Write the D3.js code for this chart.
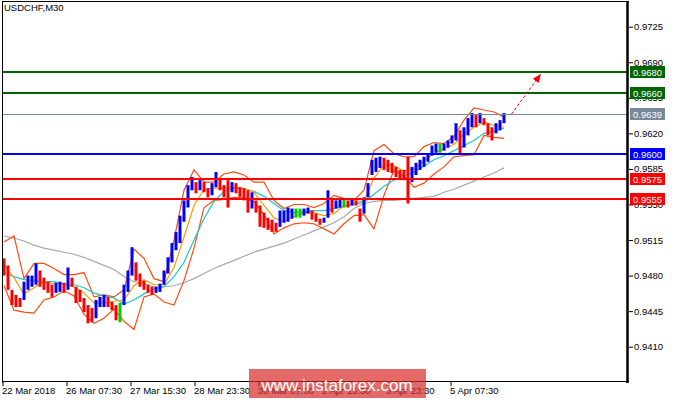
<!DOCTYPE html>
<html><head><meta charset="utf-8">
<script src="https://cdn.jsdelivr.net/npm/d3@7/dist/d3.min.js"></script>
<style>
body{margin:0;background:#fff}
svg{display:block}
text{font-family:"Liberation Sans",Arial,sans-serif}
</style>
</head><body>
<svg id="chart" width="675" height="400"></svg>
<script>
// ---------- DATA ----------
const chartTitle = "USDCHF,M30";
const timeTickBars = [0, 64, 128, 192, 256, 320, 384, 448];
const timeLabels = ["22 Mar 2018","26 Mar 07:30","27 Mar 15:30","28 Mar 23:30","30 Mar 07:30","2 Apr 15:30","3 Apr 23:30","5 Apr 07:30"];
const priceTicks = [0.9725,0.9690,0.9655,0.9620,0.9585,0.9550,0.9515,0.9480,0.9445,0.9410];
const levelValues = [0.9680,0.9660,0.9639,0.9600,0.9575,0.9555];
const levelColors = ["#006400","#006400","#778899","#0000ff","#ff0000","#ff0000"];
const levelWidths = [2,2,1,2,2,2];

// price bars (grouped every 4 bars of M30), starting at bar 1.5
const barStart = 1.5, barStep = 4;
const barHigh = [
0.9497,0.9490,0.9466,0.9461,0.9458,0.9474,0.9480,0.9480,0.9492,0.9485,
0.9478,0.9474,0.9471,0.9473,0.9474,0.9473,0.9488,0.9478,0.9469,0.9466,
0.9458,0.9451,0.9448,0.9456,0.9459,0.9461,0.9459,0.9454,0.9451,0.9453,
0.9471,0.9485,0.9508,0.9493,0.9482,0.9475,0.9471,0.9469,0.9469,0.9472,
0.9485,0.9498,0.9512,0.9523,0.9539,0.9554,0.9569,0.9577,0.9572,0.9574,
0.9572,0.9566,0.9571,0.9582,0.9576,0.9569,0.9574,0.9572,0.9571,0.9567,
0.9566,0.9564,0.9562,0.9554,0.9549,0.9542,0.9537,0.9535,0.9532,0.9544,
0.9544,0.9547,0.9546,0.9546,0.9546,0.9546,0.9547,0.9544,0.9541,0.9536,
0.9537,0.9564,0.9556,0.9554,0.9556,0.9556,0.9554,0.9556,0.9554,0.9546,
0.9557,0.9571,0.9594,0.9596,0.9597,0.9596,0.9594,0.9591,0.9587,0.9584,
0.9584,0.9597,0.9587,0.9591,0.9594,0.9597,0.9600,0.9608,0.9610,0.9610,
0.9610,0.9613,0.9618,0.9630,0.9623,0.9626,0.9635,0.9640,0.9638,0.9640,
0.9635,0.9630,0.9626,0.9630,0.9633,0.9640];
const barLow = [
0.9480,0.9466,0.9451,0.9449,0.9449,0.9456,0.9466,0.9469,0.9471,0.9469,
0.9466,0.9463,0.9459,0.9463,0.9464,0.9463,0.9466,0.9469,0.9453,0.9454,
0.9444,0.9433,0.9434,0.9438,0.9449,0.9449,0.9449,0.9446,0.9436,0.9434,
0.9451,0.9464,0.9480,0.9475,0.9469,0.9466,0.9463,0.9461,0.9463,0.9464,
0.9471,0.9482,0.9493,0.9505,0.9512,0.9533,0.9547,0.9564,0.9561,0.9564,
0.9562,0.9557,0.9559,0.9567,0.9564,0.9557,0.9547,0.9562,0.9561,0.9557,
0.9554,0.9542,0.9546,0.9542,0.9528,0.9527,0.9525,0.9523,0.9523,0.9528,
0.9532,0.9533,0.9536,0.9537,0.9537,0.9539,0.9541,0.9535,0.9533,0.9530,
0.9532,0.9537,0.9542,0.9546,0.9547,0.9547,0.9547,0.9549,0.9549,0.9533,
0.9541,0.9557,0.9579,0.9582,0.9586,0.9584,0.9582,0.9581,0.9577,0.9576,
0.9574,0.9551,0.9572,0.9579,0.9584,0.9587,0.9592,0.9598,0.9601,0.9601,
0.9603,0.9606,0.9610,0.9613,0.9600,0.9606,0.9618,0.9626,0.9626,0.9630,
0.9628,0.9618,0.9613,0.9620,0.9623,0.9630];

// indicator lines, sampled every 10 bars starting at bar 1.5
const lineStart = 1.5, lineStep = 10;
const bbUpper = [
0.9513,0.9519,0.9477,0.9492,0.9492,0.9487,0.9481,0.9481,0.9483,0.9459,
0.9461,0.9459,0.9466,0.9506,0.9497,0.9477,0.9474,0.9515,0.9564,0.9584,
0.9572,0.9572,0.9580,0.9582,0.9579,0.9572,0.9572,0.9554,0.9546,0.9550,
0.9550,0.9547,0.9551,0.9559,0.9556,0.9554,0.9564,0.9603,0.9609,0.9600,
0.9597,0.9597,0.9607,0.9611,0.9610,0.9617,0.9633,0.9645,0.9643,0.9641,0.9636];
const bbLower = [
0.9470,0.9446,0.9444,0.9443,0.9456,0.9459,0.9465,0.9460,0.9442,0.9433,
0.9438,0.9447,0.9435,0.9427,0.9459,0.9462,0.9454,0.9451,0.9475,0.9507,
0.9547,0.9554,0.9555,0.9557,0.9556,0.9553,0.9540,0.9521,0.9527,0.9531,
0.9532,0.9531,0.9526,0.9521,0.9531,0.9539,0.9540,0.9526,0.9559,0.9584,
0.9578,0.9567,0.9571,0.9580,0.9587,0.9597,0.9598,0.9599,0.9618,0.9616,0.9615];
const maOrange = [
0.9490,0.9478,0.9462,0.9468,0.9474,0.9472,0.9471,0.9469,0.9463,0.9453,
0.9453,0.9455,0.9456,0.9470,0.9476,0.9471,0.9471,0.9488,0.9518,0.9549,
0.9565,0.9566,0.9566,0.9567,0.9566,0.9562,0.9549,0.9537,0.9533,0.9538,
0.9542,0.9542,0.9539,0.9541,0.9549,0.9551,0.9554,0.9576,0.9589,0.9588,
0.9583,0.9585,0.9593,0.9600,0.9605,0.9609,0.9619,0.9626,0.9631,0.9628,0.9626];
const maCyan = [
0.9483,0.9479,0.9476,0.9475,0.9474,0.9474,0.9472,0.9471,0.9468,0.9463,
0.9460,0.9458,0.9452,0.9456,0.9462,0.9467,0.9469,0.9479,0.9493,0.9515,
0.9536,0.9553,0.9563,0.9566,0.9565,0.9563,0.9558,0.9551,0.9544,0.9542,
0.9543,0.9544,0.9544,0.9546,0.9548,0.9550,0.9552,0.9560,0.9568,0.9574,
0.9578,0.9582,0.9588,0.9594,0.9598,0.9603,0.9608,0.9613,0.9620,0.9622,0.9625];
const maGrey = [
0.9519,0.9517,0.9514,0.9510,0.9507,0.9505,0.9503,0.9501,0.9498,0.9494,
0.9490,0.9486,0.9479,0.9474,0.9472,0.9469,0.9469,0.9470,0.9473,0.9477,
0.9482,0.9487,0.9491,0.9495,0.9499,0.9503,0.9506,0.9509,0.9512,0.9516,
0.9520,0.9524,0.9528,0.9532,0.9538,0.9546,0.9551,0.9553,0.9554,0.9554,
0.9555,0.9556,0.9557,0.9558,0.9562,0.9565,0.9569,0.9573,0.9577,0.9581,0.9586];

const arrowFrom = [509, 0.9639];
const arrowTo = [538, 0.9678];
const watermark = "www.instaforex.com";

// ---------- DRAW ----------
const svg = d3.select("#chart");
const x = d3.scaleLinear().domain([0, 625]).range([2.5, 627.5]);
const y = d3.scaleLinear().domain([0.9410, 0.9725]).range([346.7, 26.7]);
const plotL = 2, plotR = 627, plotT = 1, plotB = 382;

svg.append("defs").append("clipPath").attr("id","clip")
  .append("rect").attr("x",plotL).attr("y",plotT).attr("width",plotR-plotL).attr("height",plotB-plotT);

const g = svg.append("g").attr("clip-path","url(#clip)");

// indicator lines
const lineGen = d3.line()
  .x((d,i) => x(lineStart + i*lineStep))
  .y(d => y(d));
[[maGrey,"#a9a9a9"],[bbUpper,"#ff4c10"],[bbLower,"#ff4c10"],[maCyan,"#1ec8c8"],[maOrange,"#ff9a00"]]
  .forEach(([arr,col]) => {
    g.append("path").datum(arr).attr("d", lineGen)
      .attr("fill","none").attr("stroke",col).attr("stroke-width",1.2);
  });

// price bars
const mids = barHigh.map((h,i) => (h + barLow[i]) / 2);
g.selectAll("rect.bar").data(barHigh).join("rect")
  .attr("class","bar")
  .attr("x",(d,i) => x(barStart + i*barStep) - 1.5)
  .attr("width",3)
  .attr("y",d => y(d))
  .attr("height",(d,i) => Math.max(2, y(barLow[i]) - y(d)))
  .attr("fill",(d,i) => {
    if (i === 0) return "#ff0000";
    const diff = mids[i] - mids[i-1];
    if (Math.abs(diff) < 0.00008) return "#00cc00";
    return diff > 0 ? "#0000ff" : "#ff0000";
  });

// level lines
levelValues.forEach((v,i) => {
  const yy = Math.round(y(v)) + (levelWidths[i] === 1 ? 0.5 : 0);
  g.append("line").attr("x1",plotL).attr("x2",plotR).attr("y1",yy).attr("y2",yy)
    .attr("stroke",levelColors[i]).attr("stroke-width",levelWidths[i]);
});

// arrow
const defs = svg.select("defs");
defs.append("marker").attr("id","arr").attr("viewBox","0 0 10 10")
  .attr("refX",9).attr("refY",5).attr("markerWidth",9).attr("markerHeight",9)
  .attr("orient","auto").attr("markerUnits","userSpaceOnUse")
  .append("path").attr("d","M0,1 L10,5 L0,9 Z").attr("fill","#ff0000");
g.append("line")
  .attr("x1",x(arrowFrom[0])).attr("y1",y(arrowFrom[1]))
  .attr("x2",x(arrowTo[0])).attr("y2",y(arrowTo[1]))
  .attr("stroke","#ff0000").attr("stroke-width",1).attr("stroke-dasharray","3,2")
  .attr("marker-end","url(#arr)");

// frame
svg.append("line").attr("x1",2.5).attr("x2",2.5).attr("y1",plotT).attr("y2",plotB+1).attr("stroke","#000");
svg.append("line").attr("x1",2).attr("x2",plotR+2).attr("y1",1.5).attr("y2",1.5).attr("stroke","#000");
svg.append("line").attr("x1",2).attr("x2",plotR+2).attr("y1",381.5).attr("y2",381.5).attr("stroke","#000");
svg.append("line").attr("x1",627.5).attr("x2",627.5).attr("y1",1).attr("y2",383).attr("stroke","#000").attr("stroke-width",2.5);

// title
svg.append("text").attr("x",4).attr("y",11).attr("font-size",9.5).attr("fill","#000").text(chartTitle);

// right price axis
const yAxis = d3.axisRight(y).tickValues(priceTicks).tickSize(4).tickPadding(1)
  .tickFormat(d3.format(".4f"));
const ya = svg.append("g").attr("transform","translate(629,0)").call(yAxis);
ya.select(".domain").remove();
ya.selectAll("text").attr("font-size",9.5).attr("font-family","Liberation Sans, Arial, sans-serif").attr("fill","#000");
ya.selectAll("line").attr("stroke","#000");

// level labels
levelValues.forEach((v,i) => {
  const yy = Math.round(y(v));
  svg.append("rect").attr("x",630).attr("y",yy-6).attr("width",35).attr("height",12).attr("fill",levelColors[i]);
  svg.append("text").attr("x",633).attr("y",yy+3.5).attr("font-size",9.5).attr("fill","#fff").text(v.toFixed(4));
});

// bottom time axis
const xAxis = d3.axisBottom(x).tickValues(timeTickBars).tickSize(4)
  .tickFormat((d,i) => timeLabels[i]);
const xa = svg.append("g").attr("transform","translate(0,382)").call(xAxis);
xa.select(".domain").remove();
xa.selectAll("text").attr("text-anchor","start").attr("x",-1).attr("dy",0).attr("y",12)
  .attr("font-size",9.5).attr("font-family","Liberation Sans, Arial, sans-serif").attr("fill","#000");
xa.selectAll("line").attr("stroke","#000");

// watermark
svg.append("rect").attr("x",249).attr("y",369).attr("width",177).attr("height",29)
  .attr("fill","#d92b2b").attr("opacity",0.7);
svg.append("text").attr("x",337).attr("y",391).attr("text-anchor","middle")
  .attr("font-size",17).attr("fill","#fff").text(watermark);
</script>
</body></html>
